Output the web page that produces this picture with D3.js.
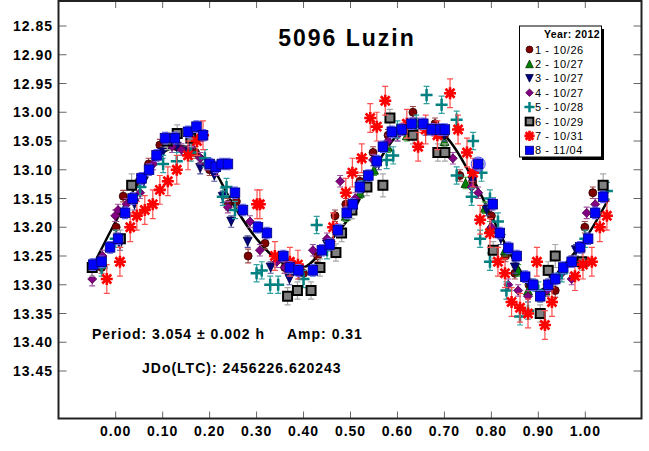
<!DOCTYPE html>
<meta charset="utf-8">
<style>
body { margin: 0; background: #fff; }
svg { display: block; font-family: "Liberation Sans", Arial, sans-serif; }
.tick-label { font-size: 14px; font-weight: bold; letter-spacing: 1px; }
</style>
<body>
<script src="https://d3js.org/d3.v7.min.js"></script>
<script>

// phase, magnitude, error
let session1 = [[-0.030,13.27,.010],[0.001,13.20,.010],[0.016,13.146,.010],[0.050,13.12,.010],[0.070,13.09,.010],
  [0.094,13.057,.010],[0.130,13.06,.010],[0.170,13.07,.010],[0.200,13.10,.010],
  [0.239,13.16,.010],[0.257,13.155,.010],[0.282,13.25,.012],[0.318,13.228,.010],[0.360,13.27,.010],[0.400,13.28,.010],
  [0.430,13.25,.010],[0.467,13.18,.010],[0.490,13.16,.010],[0.520,13.12,.010],[0.548,13.07,.010],[0.580,13.04,.010],
  [0.610,13.03,.010],[0.633,13.00,.010],[0.680,13.02,.010],[0.700,13.04,.010],[0.733,13.11,.010],[0.760,13.12,.010],
  [0.800,13.18,.010],[0.830,13.25,.010],[0.850,13.28,.010],[0.880,13.30,.010],[0.936,13.31,.012],[0.970,13.26,.010],
  [0.999,13.20,.010],[1.016,13.14,.010]];
let session2 = [[0.490,13.18,.010],[0.520,13.14,.010],[0.550,13.10,.010],[0.580,13.06,.010],[0.620,13.04,.010],
  [0.700,13.05,.010],[0.745,13.123,.010],[0.786,13.166,.010],[0.797,13.20,.010],[0.829,13.24,.010],[0.857,13.275,.010],
  [0.878,13.31,.010],[0.890,13.30,.010],[0.904,13.32,.010],[0.915,13.31,.010]];
let session3 = [[0.009,13.23,.010],[0.040,13.16,.010],[0.060,13.12,.010],[0.100,13.07,.010],[0.130,13.06,.010],
  [0.150,13.07,.010],[0.180,13.097,.010],[0.210,13.11,.010],[0.228,13.147,.010],
  [0.246,13.19,.010],[0.281,13.225,.010],[0.330,13.27,.010],[0.370,13.29,.010],[0.450,13.23,.010],[0.520,13.13,.010],
  [0.560,13.09,.010],[0.600,13.04,.010],[0.660,13.03,.010],[0.700,13.04,.010],[0.760,13.12,.010],[0.790,13.17,.010],
  [0.820,13.22,.010],[0.850,13.27,.010],[0.880,13.30,.010],[0.930,13.29,.010],[0.980,13.24,.010]];
let session4 = [[-0.050,13.29,.012],[-0.028,13.25,.010],[-0.001,13.18,.010],[0.005,13.17,.010],[0.023,13.16,.010],
  [0.052,13.14,.010],[0.080,13.09,.010],[0.120,13.06,.010],[0.140,13.065,.010],[0.160,13.06,.010],[0.180,13.08,.010],
  [0.194,13.09,.010],[0.215,13.10,.010],
  [0.239,13.165,.010],[0.286,13.19,.010],[0.307,13.24,.010],[0.343,13.26,.010],[0.360,13.27,.010],[0.390,13.28,.010],
  [0.420,13.24,.010],[0.450,13.22,.010],[0.478,13.12,.010],[0.510,13.15,.010],[0.548,13.083,.010],[0.580,13.05,.010],
  [0.600,13.04,.010],[0.641,13.02,.010],[0.680,13.03,.010],[0.718,13.08,.010],[0.758,13.13,.010],
  [0.772,13.14,.010],[0.800,13.20,.010],[0.836,13.30,.010],[0.857,13.31,.010],[0.878,13.32,.010],[0.918,13.31,.010],
  [0.950,13.28,.010],[0.971,13.29,.010],[1.003,13.175,.010],[1.021,13.16,.010],[1.040,13.14,.010]];
let session5 = [[-0.030,13.27,.015],[0.000,13.22,.015],[0.052,13.13,.015],[0.101,13.09,.015],[0.130,13.085,.015],
  [0.160,13.07,.015],[0.190,13.08,.015],[0.228,13.147,.015],[0.236,13.13,.015],[0.254,13.17,.015],[0.300,13.28,.015],
  [0.311,13.275,.015],[0.329,13.30,.015],[0.346,13.30,.015],[0.400,13.29,.015],[0.428,13.196,.015],[0.450,13.24,.015],
  [0.500,13.17,.015],[0.530,13.12,.015],[0.577,13.083,.015],[0.591,13.075,.015],[0.600,13.03,.015],[0.640,13.02,.015],
  [0.662,12.97,.015],[0.694,12.987,.015],[0.726,13.013,.015],[0.726,13.11,.015],[0.758,13.147,.015],[0.761,13.05,.015],
  [0.776,13.22,.015],[0.779,13.105,.015],[0.797,13.15,.015],[0.797,13.26,.015],[0.814,13.19,.015],[0.832,13.31,.015],
  [0.861,13.355,.015],[0.878,13.345,.015],[0.900,13.31,.015],[0.950,13.28,.015],[1.000,13.22,.015],[1.046,13.137,.015]];
let session6 = [[-0.050,13.27,.015],[0.010,13.22,.015],[0.034,13.127,.020],[0.110,13.05,.015],[0.131,13.037,.015],
  [0.160,13.045,.015],[0.366,13.32,.015],[0.387,13.31,.015],[0.416,13.31,.015],[0.435,13.27,.015],[0.469,13.244,.015],
  [0.481,13.21,.015],[0.503,13.17,.015],[0.535,13.13,.015],[0.569,13.127,.020],[0.584,13.01,.015],[0.620,13.03,.015],
  [0.633,13.04,.015],[0.686,13.07,.015],[0.701,13.07,.015],[0.804,13.24,.015],[0.904,13.35,.015],[0.921,13.275,.015],
  [0.936,13.25,.020],[0.993,13.26,.015],[1.038,13.127,.020]];
let session7 = [[-0.019,13.29,.025],[0.009,13.26,.025],[0.031,13.20,.025],[0.045,13.18,.025],[0.062,13.17,.025],
  [0.079,13.16,.025],[0.094,13.135,.025],[0.111,13.12,.025],[0.130,13.10,.025],[0.154,13.075,.025],[0.173,13.05,.025],
  [0.186,13.04,.025],[0.301,13.16,.025],[0.307,13.16,.025],[0.339,13.25,.025],[0.371,13.26,.025],[0.388,13.265,.025],
  [0.463,13.20,.025],[0.490,13.14,.025],[0.504,13.105,.025],[0.524,13.08,.025],[0.542,13.01,.025],[0.556,13.025,.025],
  [0.574,12.98,.025],[0.620,13.02,.025],[0.644,13.06,.025],[0.660,13.03,.025],[0.685,13.04,.025],[0.712,12.967,.025],
  [0.729,13.03,.025],[0.748,13.07,.025],[0.761,13.105,.025],[0.776,13.187,.025],[0.797,13.21,.025],[0.814,13.26,.025],
  [0.829,13.28,.025],[0.843,13.33,.025],[0.861,13.34,.025],[0.878,13.35,.025],[0.897,13.26,.025],[0.914,13.37,.025],
  [0.929,13.33,.025],[0.978,13.285,.025],[0.995,13.265,.025],[1.014,13.26,.025],[1.031,13.20,.025],[1.046,13.18,.025]];
let session8 = [[-0.048,13.265,.010],[-0.030,13.26,.010],[-0.012,13.235,.010],[0.005,13.22,.010],[0.020,13.175,.010],
  [0.036,13.15,.010],[0.055,13.115,.010],[0.071,13.10,.010],[0.087,13.075,.010],[0.105,13.045,.010],[0.126,13.045,.010],
  [0.154,13.034,.010],[0.172,13.025,.010],[0.186,13.04,.010],[0.200,13.09,.010],[0.213,13.095,.010],[0.226,13.09,.010],
  [0.239,13.09,.010],[0.254,13.14,.010],[0.271,13.17,.010],[0.303,13.20,.010],[0.322,13.21,.010],[0.357,13.25,.010],
  [0.371,13.27,.010],[0.389,13.275,.010],[0.420,13.275,.010],[0.439,13.24,.010],[0.456,13.23,.010],[0.473,13.205,.010],
  [0.492,13.175,.010],[0.505,13.16,.010],[0.520,13.13,.010],[0.538,13.11,.010],[0.556,13.085,.010],[0.569,13.06,.010],
  [0.588,13.034,.010],[0.609,13.03,.010],[0.630,13.02,.010],[0.655,13.02,.010],[0.673,13.03,.010],[0.691,13.03,.010],
  [0.701,13.03,.010],[0.772,13.09,.010],[0.803,13.16,.010],[0.818,13.21,.010],[0.836,13.236,.010],[0.854,13.25,.010],
  [0.872,13.286,.010],[0.889,13.30,.010],[0.904,13.32,.010],[0.921,13.30,.010],[0.936,13.29,.010],[0.953,13.27,.010],
  [0.971,13.26,.010],[0.989,13.235,.010],[1.006,13.22,.010],[1.021,13.175,.010],[1.038,13.147,.010]];

// fitted curve, read at the same phases from the picture
let fitPhase = [-0.05,0.00,0.05,0.10,0.15,0.20,0.25,0.30,0.35,0.40,0.45,0.50,0.55,0.60,0.65,0.70,0.75,0.80,0.85,0.90,0.95,1.00,1.05];
let fitMag   = [13.27,13.19,13.12,13.07,13.06,13.09,13.16,13.22,13.26,13.27,13.23,13.18,13.10,13.04,13.02,13.04,13.10,13.18,13.26,13.31,13.27,13.22,13.15];

let legendLabels = ["1 - 10/26","2 - 10/27","3 - 10/27","4 - 10/27","5 - 10/28","6 - 10/29","7 - 10/31","8 - 11/04"];
let xTicks = [0,0.1,0.2,0.3,0.4,0.5,0.6,0.7,0.8,0.9,1.0];
let yTicks = [12.85,12.90,12.95,13.00,13.05,13.10,13.15,13.20,13.25,13.30,13.35,13.40,13.45];

let width = 649, height = 451;
let pLeft = 58.5, pRight = 641.5, pTop = 1, pBottom = 418.5;

let x = d3.scaleLinear().domain([0, 1]).range([115.7, 585.3]);
let y = d3.scaleLinear().domain([12.85, 13.45]).range([26, 371]);

let svg = d3.select("body").append("svg")
	.attr("width", width)
	.attr("height", height);

// ticks (inside, on all four sides)
let tk = svg.append("g").attr("stroke", "#666").attr("stroke-width", 1);
xTicks.forEach(function(t){
	tk.append("line").attr("x1", x(t)).attr("x2", x(t)).attr("y1", pBottom).attr("y2", pBottom - 7);
	tk.append("line").attr("x1", x(t)).attr("x2", x(t)).attr("y1", pTop).attr("y2", pTop + 7);
});
yTicks.forEach(function(t){
	tk.append("line").attr("x1", pLeft).attr("x2", pLeft + 8).attr("y1", y(t)).attr("y2", y(t));
	tk.append("line").attr("x1", pRight).attr("x2", pRight - 8).attr("y1", y(t)).attr("y2", y(t));
});

svg.selectAll("text.xl").data(xTicks).enter().append("text")
	.attr("class", "tick-label")
	.attr("x", d => x(d)).attr("y", 436)
	.attr("text-anchor", "middle")
	.text(d => d.toFixed(2));

svg.selectAll("text.yl").data(yTicks).enter().append("text")
	.attr("class", "tick-label")
	.attr("x", 53).attr("y", d => y(d) + 5)
	.attr("text-anchor", "end")
	.text(d => d.toFixed(2));

// fit curve
let line = d3.line()
	.x(d => x(d[0]))
	.y(d => y(d[1]))
	.curve(d3.curveCatmullRom);

let plot = svg.append("g");

plot.append("path")
	.datum(fitPhase.map((p, i) => [p, fitMag[i]]))
	.attr("d", line)
	.attr("fill", "none")
	.attr("stroke", "#000")
	.attr("stroke-width", 2.5);

let styles = [
	{ type: "circle", fill: "#800000", stroke: "#300000", err: "#a04848" },
	{ type: "up", fill: "#008000", stroke: "#003000", err: "#40a040" },
	{ type: "down", fill: "#000080", stroke: "#000040", err: "#5050a0" },
	{ type: "diamond", fill: "#800080", stroke: "#500050", err: "#a050a0" },
	{ type: "plus", fill: "#008080", stroke: "#008080", err: "#30a0a0" },
	{ type: "square", fill: "#808080", stroke: "#000", err: "#a8a8a8" },
	{ type: "star", fill: "#ff0000", stroke: "#ff0000", err: "#ff5050" },
	{ type: "bsquare", fill: "#0000ff", stroke: "#000080", err: "#6060ff" }
];

function marker(g, s, scale) {
	let k = scale || 1;
	if (s.type == "circle") {
		g.append("circle").attr("r", 4 * k).attr("fill", s.fill).attr("stroke", s.stroke).attr("stroke-width", 0.8);
	} else if (s.type == "up" || s.type == "down") {
		let h = 4.5 * k, d = s.type == "up" ? 1 : -1;
		g.append("path").attr("d", "M0," + (-h * d) + "L" + h + "," + (h * d) + "L" + (-h) + "," + (h * d) + "Z")
			.attr("fill", s.fill).attr("stroke", s.stroke).attr("stroke-width", 0.8);
	} else if (s.type == "diamond") {
		let h = 4.5 * k;
		g.append("path").attr("d", "M0," + (-h) + "L" + h + ",0L0," + h + "L" + (-h) + ",0Z")
			.attr("fill", s.fill).attr("stroke", s.stroke).attr("stroke-width", 0.8);
	} else if (s.type == "plus") {
		let h = 6 * k;
		g.append("path").attr("d", "M" + (-h) + ",0H" + h + "M0," + (-h) + "V" + h)
			.attr("stroke", s.fill).attr("stroke-width", 2.5);
	} else if (s.type == "star") {
		let h = 6 * k, q = h * 0.75;
		g.append("path").attr("d", "M" + (-h) + ",0H" + h + "M0," + (-h) + "V" + h +
				"M" + (-q) + "," + (-q) + "L" + q + "," + q + "M" + (-q) + "," + q + "L" + q + "," + (-q))
			.attr("stroke", s.fill).attr("stroke-width", 2.6);
	} else if (s.type == "square") {
		let h = 4.5 * k;
		g.append("rect").attr("x", -h).attr("y", -h).attr("width", 2 * h).attr("height", 2 * h)
			.attr("fill", s.fill).attr("stroke", s.stroke).attr("stroke-width", 2);
	} else {
		let h = 4.8 * k;
		g.append("rect").attr("x", -h).attr("y", -h).attr("width", 2 * h).attr("height", 2 * h)
			.attr("fill", s.fill).attr("stroke", s.stroke).attr("stroke-width", 0.8);
	}
}

let sessions = [session1, session2, session3, session4, session5, session6, session7, session8];

sessions.forEach(function(data, i) {
	let s = styles[i];
	let g = plot.append("g");
	// error bars
	data.forEach(function(d) {
		let px = x(d[0]), y1 = y(d[1] - d[2]), y2 = y(d[1] + d[2]);
		g.append("path")
			.attr("d", "M" + px + "," + y1 + "V" + y2 + "M" + (px - 3) + "," + y1 + "H" + (px + 3) + "M" + (px - 3) + "," + y2 + "H" + (px + 3))
			.attr("stroke", s.err).attr("stroke-width", 1.2).attr("fill", "none");
	});
	data.forEach(function(d) {
		let m = g.append("g").attr("transform", "translate(" + x(d[0]) + "," + y(d[1]) + ")");
		marker(m, s);
	});
});

// highlighted point
plot.append("circle")
	.attr("cx", x(0.772)).attr("cy", y(13.09)).attr("r", 7)
	.attr("fill", "none").attr("stroke", "#5050ff").attr("stroke-width", 1);

// frame
svg.append("rect")
	.attr("x", pLeft).attr("y", pTop)
	.attr("width", pRight - pLeft).attr("height", pBottom - pTop)
	.attr("fill", "none").attr("stroke", "#222").attr("stroke-width", 2);

// title
svg.append("text")
	.attr("x", 347).attr("y", 45.5)
	.attr("text-anchor", "middle")
	.style("font-size", "23px").style("font-weight", "bold").style("letter-spacing", "2px")
	.text("5096 Luzin");

// legend
let lg = svg.append("g");
lg.append("rect").attr("x", 522).attr("y", 29).attr("width", 82).attr("height", 131).attr("fill", "#000");
lg.append("rect").attr("x", 519.5).attr("y", 26).attr("width", 82).attr("height", 131)
	.attr("fill", "#fff").attr("stroke", "#000").attr("stroke-width", 1);
lg.append("text").attr("x", 600).attr("y", 38).attr("text-anchor", "end")
	.style("font-size", "10.5px").style("font-weight", "bold").style("letter-spacing", "0.4px").text("Year: 2012");
legendLabels.forEach(function(l, i) {
	let cy = 49.5 + i * 14.4;
	let m = lg.append("g").attr("transform", "translate(529.5," + cy + ")");
	marker(m, styles[i], 0.85);
	lg.append("text").attr("x", 535).attr("y", cy + 4)
		.style("font-size", "11px").style("letter-spacing", "0.6px").text(l);
});

// annotations
svg.append("text").attr("x", 92).attr("y", 339)
	.style("font-size", "14px").style("font-weight", "bold").style("letter-spacing", "1px")
	.text("Period: 3.054 \u00b1 0.002 h");
svg.append("text").attr("x", 287).attr("y", 339)
	.style("font-size", "14px").style("font-weight", "bold").style("letter-spacing", "1px")
	.text("Amp: 0.31");
svg.append("text").attr("x", 142).attr("y", 373)
	.style("font-size", "14px").style("font-weight", "bold").style("letter-spacing", "1px")
	.text("JDo(LTC): 2456226.620243");

</script>
</body>
